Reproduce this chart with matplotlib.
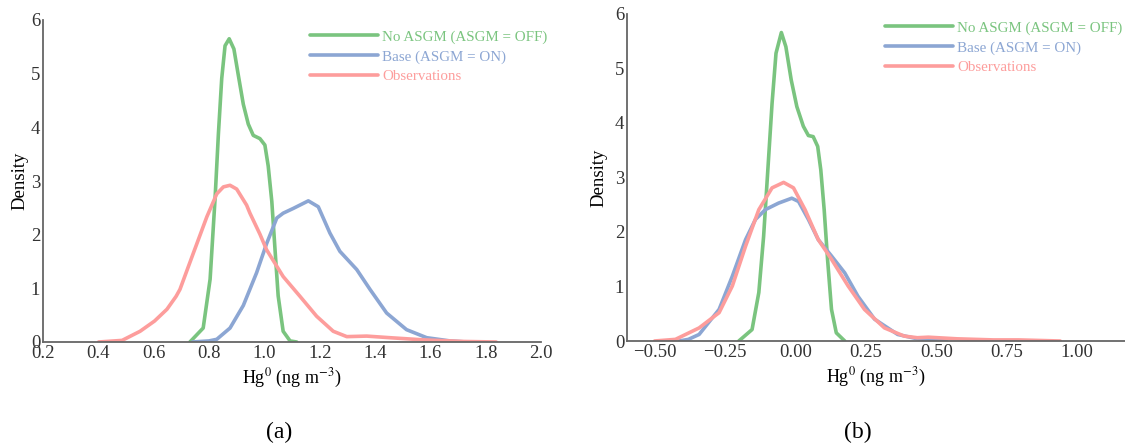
import matplotlib
matplotlib.use("Agg")
import matplotlib.pyplot as plt

plt.rcParams["font.family"] = ["Liberation Serif", "DejaVu Serif"]
plt.rcParams["mathtext.fontset"] = "stix"

LABELS = ["No ASGM (ASGM = OFF)", "Base (ASGM = ON)", "Observations"]
COLORS = ["#7ac47f", "#8ca6d3", "#fd9d9c"]

# ---- panel (a): absolute Hg0, density curves ----
a_off_x = [0.731, 0.779, 0.804, 0.822, 0.834, 0.846, 0.858, 0.873, 0.890, 0.906,
           0.924, 0.942, 0.960, 0.984, 1.002, 1.014, 1.027, 1.038, 1.050, 1.068,
           1.093, 1.117]
a_off_y = [0.0, 0.26, 1.17, 2.68, 3.88, 4.91, 5.52, 5.65, 5.46, 4.97,
           4.43, 4.06, 3.85, 3.79, 3.67, 3.28, 2.62, 1.77, 0.86, 0.20,
           0.02, 0.0]

a_on_x = [0.740, 0.800, 0.828, 0.876, 0.924, 0.972, 1.008, 1.045, 1.068, 1.105,
          1.159, 1.195, 1.237, 1.273, 1.334, 1.382, 1.442, 1.514, 1.587, 1.671, 1.731]
a_on_y = [0.0, 0.02, 0.05, 0.26, 0.68, 1.29, 1.83, 2.31, 2.40, 2.49,
          2.63, 2.52, 2.03, 1.69, 1.35, 0.98, 0.54, 0.23, 0.08, 0.02, 0.0]

a_obs_x = [0.401, 0.486, 0.551, 0.603, 0.648, 0.681, 0.695, 0.743, 0.792, 0.828,
           0.852, 0.876, 0.900, 0.936, 0.948, 0.984, 1.008, 1.068, 1.129, 1.189,
           1.249, 1.298, 1.370, 1.454, 1.574, 1.721, 1.838]
a_obs_y = [0.0, 0.03, 0.20, 0.39, 0.61, 0.85, 0.98, 1.65, 2.33, 2.76,
           2.89, 2.92, 2.85, 2.55, 2.40, 2.01, 1.72, 1.22, 0.85, 0.48,
           0.20, 0.10, 0.11, 0.08, 0.04, 0.01, 0.0]

# ---- panel (b): anomalies ----
b_off_x = [-0.201, -0.154, -0.130, -0.113, -0.098, -0.083, -0.069, -0.050, -0.034,
           -0.015, 0.005, 0.028, 0.046, 0.063, 0.079, 0.090, 0.102, 0.114, 0.128,
           0.145, 0.175]
b_off_y = [0.0, 0.21, 0.89, 1.92, 3.14, 4.36, 5.28, 5.66, 5.40,
           4.79, 4.30, 3.94, 3.77, 3.75, 3.57, 3.14, 2.41, 1.50, 0.58,
           0.15, 0.0]

b_on_x = [-0.413, -0.380, -0.342, -0.271, -0.224, -0.177, -0.142, -0.107, -0.060,
          -0.013, 0.011, 0.046, 0.081, 0.128, 0.175, 0.222, 0.281, 0.363, 0.433,
          0.536]
b_on_y = [0.0, 0.03, 0.12, 0.58, 1.19, 1.86, 2.23, 2.41, 2.53,
          2.62, 2.56, 2.23, 1.86, 1.56, 1.25, 0.82, 0.40, 0.12, 0.04,
          0.0]

b_obs_x = [-0.500, -0.426, -0.342, -0.271, -0.224, -0.177, -0.130, -0.083, -0.042,
           -0.007, 0.034, 0.081, 0.128, 0.187, 0.245, 0.316, 0.386, 0.433, 0.472,
           0.574, 0.703, 0.792, 0.940]
b_obs_y = [0.0, 0.03, 0.24, 0.52, 1.01, 1.74, 2.41, 2.81, 2.91,
           2.81, 2.41, 1.86, 1.50, 1.01, 0.58, 0.24, 0.09, 0.06, 0.07,
           0.04, 0.02, 0.02, 0.0]

A_TICKS = [0.2, 0.4, 0.6, 0.8, 1.0, 1.2, 1.4, 1.6, 1.8, 2.0]
B_TICKS = [-0.50, -0.25, 0.00, 0.25, 0.50, 0.75, 1.00]
Y_TICKS = [0, 1, 2, 3, 4, 5, 6]

W, H = 1125, 447
fig = plt.figure(figsize=(W / 100, H / 100), dpi=100)


def px_axes(left, right, top, bottom):
    return fig.add_axes([left / W, 1 - bottom / H, (right - left) / W, (bottom - top) / H])


def style(ax, xlim, xticks, fmt, ypad):
    for s in ("top", "right"):
        ax.spines[s].set_visible(False)
    for s in ("left", "bottom"):
        ax.spines[s].set_color("#666666")
        ax.spines[s].set_linewidth(1.3)
    ax.set_xlim(*xlim)
    ax.set_ylim(0, 6)
    ax.set_xticks(xticks)
    ax.set_xticklabels([fmt.format(t).replace("-", "\u2212") for t in xticks])
    ax.set_yticks(Y_TICKS)
    ax.tick_params(length=0, labelsize=13.5, colors="#333333", pad=2)
    ax.set_xlabel("Hg$^0$ (ng m$^{-3}$)", fontsize=13, labelpad=4)
    ax.set_ylabel("Density", fontsize=13.5, labelpad=ypad)


def curves(ax, data, leg_anchor):
    lines = []
    for (x, y), c, lab in zip(data, COLORS, LABELS):
        ln, = ax.plot(x, y, color=c, lw=2.6, label=lab,
                      solid_capstyle="round", solid_joinstyle="round")
        lines.append(ln)
    leg = fig.legend(handles=lines, loc="upper left", bbox_to_anchor=leg_anchor,
                     frameon=False, fontsize=10.8, handlelength=4.5, handletextpad=0.3,
                     labelspacing=0.42, borderpad=0, borderaxespad=0)
    for t, c in zip(leg.get_texts(), COLORS):
        t.set_color(c)


axa = px_axes(43, 541, 20, 342)
curves(axa, [(a_off_x, a_off_y), (a_on_x, a_on_y), (a_obs_x, a_obs_y)], (310 / W, 1 - 30 / H))
style(axa, (0.2, 2.0), A_TICKS, "{:.1f}", 2)

axb = px_axes(627, 1125, 14, 341)
curves(axb, [(b_off_x, b_off_y), (b_on_x, b_on_y), (b_obs_x, b_obs_y)], (885 / W, 1 - 21 / H))
style(axb, (-0.598, 1.17), B_TICKS, "{:.2f}", 5)

fig.text(279 / W, 1 - 432 / H, "(a)", ha="center", va="center", fontsize=17)
fig.text(858 / W, 1 - 432 / H, "(b)", ha="center", va="center", fontsize=17)

fig.savefig("out.png", dpi=100)
